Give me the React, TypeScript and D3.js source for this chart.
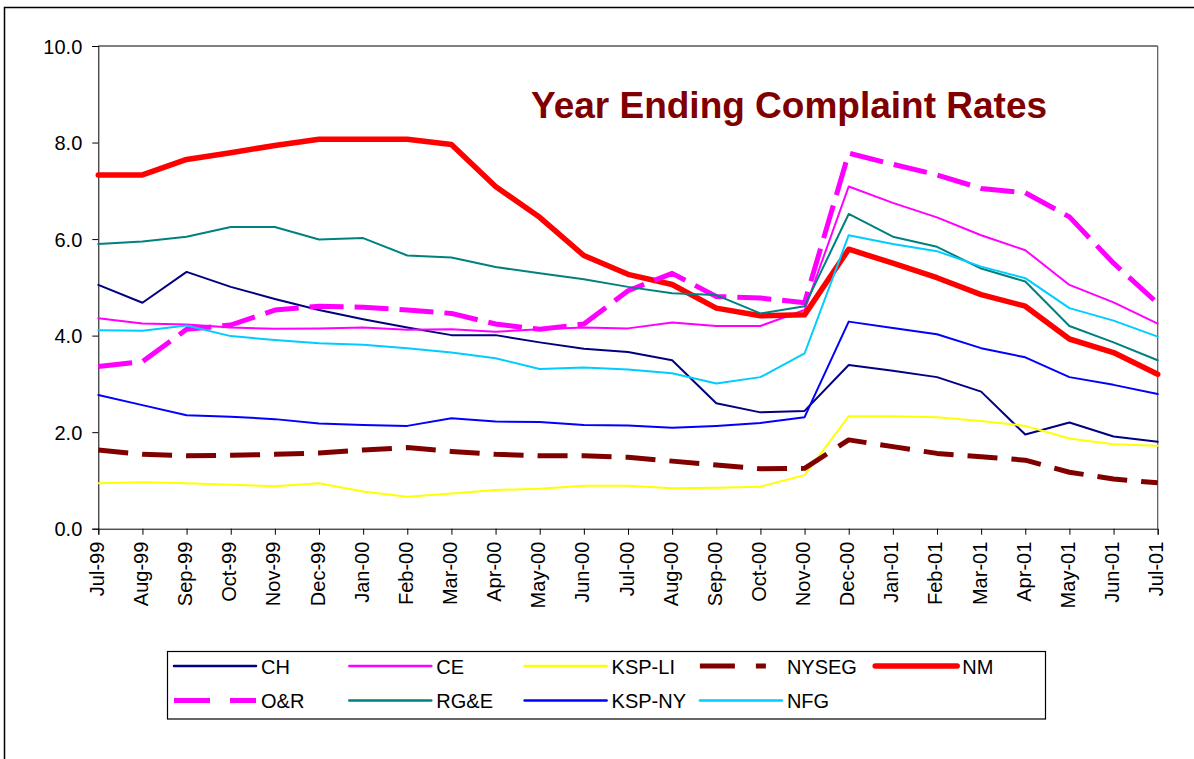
import React, { useEffect, useRef } from "react";
import * as d3 from "d3";

// months on the x axis
const months = [
  "Jul-99", "Aug-99", "Sep-99", "Oct-99", "Nov-99", "Dec-99", "Jan-00", "Feb-00",
  "Mar-00", "Apr-00", "May-00", "Jun-00", "Jul-00", "Aug-00", "Sep-00", "Oct-00",
  "Nov-00", "Dec-00", "Jan-01", "Feb-01", "Mar-01", "Apr-01", "May-01", "Jun-01", "Jul-01",
];

const yTicks = [0, 2, 4, 6, 8, 10];

const chValues = [5.05, 4.68, 5.32, 5.01, 4.76, 4.53, 4.34, 4.17, 4.01, 4.01, 3.86, 3.73, 3.66, 3.49, 2.6, 2.41, 2.44, 3.39, 3.27, 3.14, 2.84, 1.95, 2.2, 1.91, 1.8];
const ceValues = [4.36, 4.25, 4.23, 4.17, 4.14, 4.15, 4.17, 4.12, 4.13, 4.08, 4.13, 4.17, 4.15, 4.27, 4.2, 4.2, 4.53, 7.09, 6.75, 6.45, 6.08, 5.77, 5.05, 4.69, 4.25];
const kspLiValues = [0.94, 0.96, 0.94, 0.91, 0.88, 0.94, 0.77, 0.66, 0.73, 0.8, 0.83, 0.89, 0.89, 0.84, 0.85, 0.87, 1.11, 2.33, 2.33, 2.31, 2.23, 2.13, 1.87, 1.75, 1.72];
const nysegValues = [1.63, 1.54, 1.51, 1.52, 1.54, 1.57, 1.63, 1.68, 1.6, 1.54, 1.51, 1.51, 1.48, 1.4, 1.32, 1.24, 1.25, 1.84, 1.7, 1.56, 1.49, 1.42, 1.17, 1.03, 0.95];
const nmValues = [7.33, 7.33, 7.65, 7.79, 7.94, 8.07, 8.07, 8.07, 7.96, 7.09, 6.45, 5.66, 5.27, 5.06, 4.57, 4.41, 4.43, 5.79, 5.5, 5.2, 4.85, 4.61, 3.93, 3.65, 3.2];
const orValues = [3.36, 3.46, 4.13, 4.22, 4.53, 4.61, 4.59, 4.53, 4.46, 4.24, 4.13, 4.24, 4.93, 5.29, 4.81, 4.78, 4.68, 7.78, 7.55, 7.33, 7.05, 6.96, 6.46, 5.5, 4.67];
const rgeValues = [5.9, 5.95, 6.05, 6.25, 6.25, 5.99, 6.02, 5.66, 5.62, 5.42, 5.29, 5.17, 5.01, 4.88, 4.84, 4.46, 4.61, 6.52, 6.05, 5.84, 5.39, 5.12, 4.2, 3.86, 3.49];
const kspNyValues = [2.77, 2.56, 2.35, 2.32, 2.27, 2.18, 2.15, 2.13, 2.29, 2.22, 2.21, 2.15, 2.14, 2.09, 2.13, 2.19, 2.31, 4.29, 4.16, 4.03, 3.74, 3.55, 3.14, 2.98, 2.79];
const nfgValues = [4.11, 4.1, 4.21, 3.99, 3.91, 3.84, 3.81, 3.74, 3.65, 3.53, 3.31, 3.34, 3.3, 3.22, 3.01, 3.14, 3.63, 6.08, 5.9, 5.75, 5.43, 5.19, 4.57, 4.31, 3.98];

interface Series {
  name: string;
  values: number[];
  color: string;
  width: number;
  dash?: string;
  legendDash?: string;
}

// drawn in this order (last one on top), legend in same order
const series: Series[] = [
  { name: "CH", values: chValues, color: "#000080", width: 2 },
  { name: "CE", values: ceValues, color: "#FF00FF", width: 2 },
  { name: "KSP-LI", values: kspLiValues, color: "#FFFF00", width: 2 },
  { name: "NYSEG", values: nysegValues, color: "#800000", width: 5, dash: "30,14", legendDash: "35,21,10,21" },
  { name: "NM", values: nmValues, color: "#FF0000", width: 5.5 },
  { name: "O&R", values: orValues, color: "#FF00FF", width: 5, dash: "34,11", legendDash: "36,20" },
  { name: "RG&E", values: rgeValues, color: "#008080", width: 2 },
  { name: "KSP-NY", values: kspNyValues, color: "#0000FF", width: 2 },
  { name: "NFG", values: nfgValues, color: "#00CCFF", width: 2 },
];

const W = 1194;
const H = 759;
const FONT = "'Liberation Sans', Arial, Helvetica, sans-serif";

const App: React.FC = () => {
  const svgRef = useRef<SVGSVGElement>(null);

  useEffect(() => {
    const svg = d3.select(svgRef.current);
    svg.selectAll("*").remove();

    const plot = { left: 98.3, right: 1157.7, top: 46, bottom: 528.7 };

    const x = d3.scalePoint<string>().domain(months).range([plot.left, plot.right]);
    const y = d3.scaleLinear().domain([0, 10]).range([plot.bottom, plot.top]);

    svg.append("rect").attr("width", W).attr("height", H).attr("fill", "#fff");

    // outer chart frame
    svg.append("rect")
      .attr("x", 4.5).attr("y", 7.5)
      .attr("width", W + 20).attr("height", H + 20)
      .attr("fill", "none").attr("stroke", "#000").attr("stroke-width", 1.5);

    // plot area border (top / right)
    svg.append("line")
      .attr("x1", plot.left).attr("x2", plot.right)
      .attr("y1", plot.top).attr("y2", plot.top)
      .attr("stroke", "#000").attr("stroke-width", 1);
    svg.append("line")
      .attr("x1", plot.right).attr("x2", plot.right)
      .attr("y1", plot.top).attr("y2", plot.bottom)
      .attr("stroke", "#555").attr("stroke-width", 1.2);

    // y axis
    const yAxis = d3.axisLeft(y)
      .tickValues(yTicks)
      .tickFormat(d3.format(".1f"))
      .tickSize(6)
      .tickPadding(10);
    const gy = svg.append("g").attr("transform", `translate(${plot.left},0)`).call(yAxis);
    gy.select(".domain").attr("stroke", "#000");
    gy.selectAll(".tick line").attr("stroke", "#000");
    gy.selectAll(".tick text")
      .attr("font-family", FONT)
      .attr("font-size", 20)
      .attr("fill", "#000")
      .attr("dy", "0.36em");

    // x axis
    const xAxis = d3.axisBottom(x).tickSize(6).tickFormat(() => "");
    const gx = svg.append("g").attr("transform", `translate(0,${plot.bottom})`).call(xAxis);
    gx.select(".domain").attr("stroke", "#000");
    gx.selectAll(".tick line").attr("stroke", "#000");

    svg.append("g")
      .selectAll("text")
      .data(months)
      .join("text")
      .attr("transform", (d) => `translate(${(x(d) as number) + 5.5},${plot.bottom + 13}) rotate(-90)`)
      .attr("text-anchor", "end")
      .attr("font-family", FONT)
      .attr("font-size", 20)
      .attr("fill", "#000")
      .text((d) => d);

    // series lines
    const line = d3.line<number>()
      .x((_, i) => x(months[i]) as number)
      .y((d) => y(d));

    series.forEach((s) => {
      svg.append("path")
        .datum(s.values)
        .attr("d", line)
        .attr("fill", "none")
        .attr("stroke", s.color)
        .attr("stroke-width", s.width)
        .attr("stroke-linejoin", "round")
        .attr("stroke-linecap", s.dash ? "butt" : "round")
        .attr("stroke-dasharray", s.dash ?? null);
    });

    // title
    svg.append("text")
      .attr("x", 531)
      .attr("y", 118)
      .attr("font-family", FONT)
      .attr("font-size", 37)
      .attr("font-weight", "bold")
      .attr("fill", "#800000")
      .text("Year Ending Complaint Rates");

    // legend
    const legend = svg.append("g");
    legend.append("rect")
      .attr("x", 167.5).attr("y", 651.5)
      .attr("width", 1045.5 - 167.5).attr("height", 719 - 651.5)
      .attr("fill", "#fff").attr("stroke", "#000").attr("stroke-width", 1.2);

    const colStep = 175.3;
    const rows = [666, 700.5];
    series.forEach((s, i) => {
      const col = i % 5;
      const row = Math.floor(i / 5);
      const x0 = 174 + col * colStep;
      const yy = rows[row];
      legend.append("line")
        .attr("x1", x0).attr("x2", x0 + 82)
        .attr("y1", yy).attr("y2", yy)
        .attr("stroke", s.color)
        .attr("stroke-width", s.width === 2 ? 2.5 : s.width)
        .attr("stroke-linecap", s.dash ? "butt" : "round")
        .attr("stroke-dasharray", s.legendDash ?? null);
      legend.append("text")
        .attr("x", x0 + 87)
        .attr("y", yy + 7.5)
        .attr("font-family", FONT)
        .attr("font-size", 20)
        .attr("fill", "#000")
        .text(s.name);
    });

    return () => {
      svg.selectAll("*").remove();
    };
  }, []);

  return (
    <svg
      ref={svgRef}
      width={W}
      height={H}
      style={{ position: "absolute", left: 0, top: 0, display: "block" }}
    />
  );
};

export default App;
